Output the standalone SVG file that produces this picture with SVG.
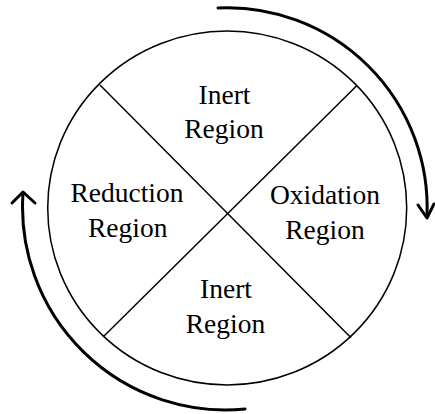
<svg xmlns="http://www.w3.org/2000/svg" width="435" height="414" viewBox="0 0 435 414">
<style>
.thin{fill:none;stroke:#000;stroke-width:1.5}
.thick{fill:none;stroke:#000;stroke-width:3;stroke-linecap:round;stroke-linejoin:round}
text{font-family:"Liberation Serif","Times New Roman",serif;font-size:27.5px;fill:#000;text-anchor:middle}
</style>
<rect width="435" height="414" fill="#fff"/>
<g id="wheel">
<ellipse class="thin" cx="227.2" cy="208" rx="179.5" ry="177"/>
</g>
<g id="connectors">
<line class="thin" x1="100" y1="85" x2="351" y2="337.7"/>
<line class="thin" x1="356.7" y1="85.7" x2="103.3" y2="336.7"/>
<path class="thick" d="M218,8 A200,200 0 0 1 427,216"/>
<polyline class="thick" points="418,205 427,218 434,204"/>
<path class="thick" d="M245,409 A203,203 0 0 1 23,193"/>
<polyline class="thick" points="12,203 23,192 35,203"/>
</g>
<g id="inert-top"><text x="224.5" y="104">Inert</text><text x="224" y="138.3">Region</text></g>
<g id="reduction"><text x="127" y="202.3">Reduction</text><text x="127.7" y="236.7">Region</text></g>
<g id="oxidation"><text x="325" y="204">Oxidation</text><text x="325" y="239.3">Region</text></g>
<g id="inert-bottom"><text x="226" y="298.3">Inert</text><text x="225.5" y="332.7">Region</text></g>
</svg>
